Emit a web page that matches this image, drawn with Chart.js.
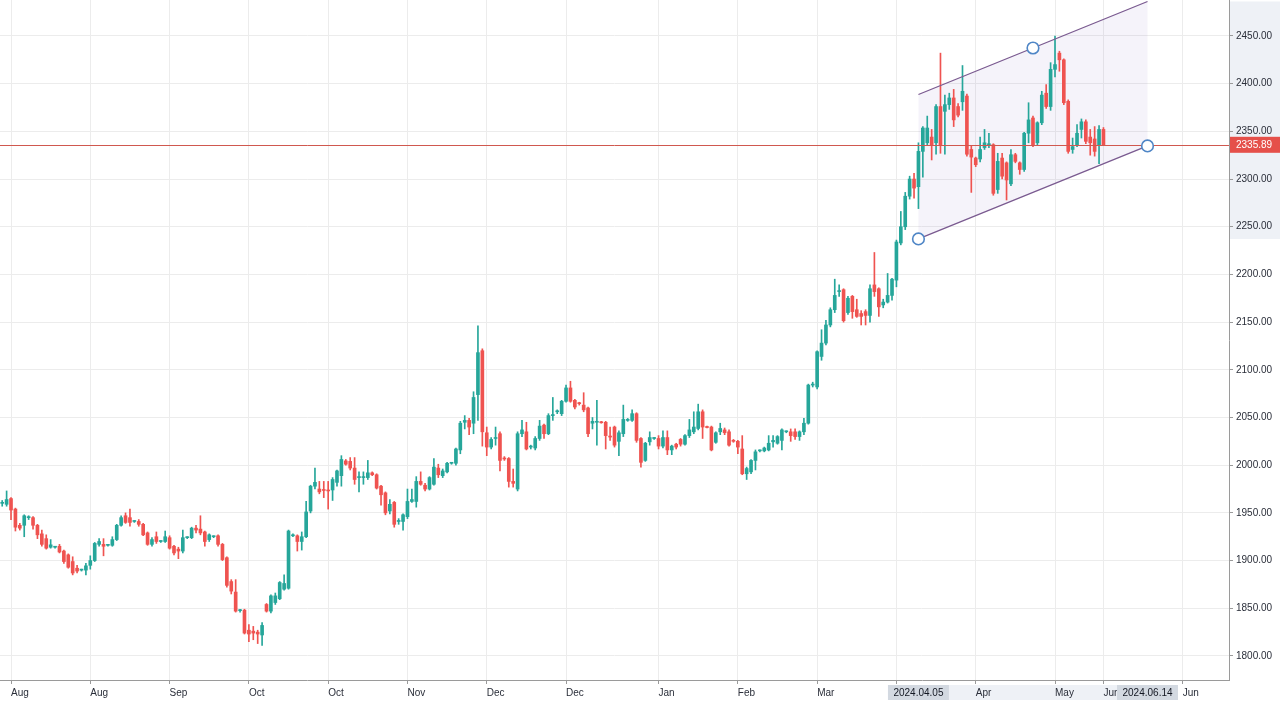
<!DOCTYPE html>
<html><head><meta charset="utf-8">
<script src="https://cdn.jsdelivr.net/npm/chart.js@4.4.1/dist/chart.umd.min.js"></script>
<style>html,body{margin:0;padding:0;background:#fff;overflow:hidden}#wrap{width:1280px;height:702px}</style>
</head><body><div id="wrap"><canvas id="c" width="1280" height="702"></canvas></div>
<script>
// ---- DATA ----
const opens = [1960,1959,1965,1954,1937,1937,1945,1945,1937,1928,
1923,1914,1914,1915,1910,1906,1899,1892,1890,1890,
1895,1900,1917,1917,1916,1916,1922,1937,1947,1945,
1941,1941,1938,1929,1917,1925,1920,1920,1924,1915,
1912,1910,1924,1924,1934,1933,1930,1922,1925,1926,
1917,1903,1878,1867,1847.5,1848,1827,1826,1825,1822,
1854,1847,1856,1860,1870,1871,1926,1926,1920,1925,
1952,1978,1975,1974,1974,1974,1982,1989,2004.5,2004,
1997,1987,1987,1987,1992,1990,1978,1971,1952,1961,
1941,1941,1946,1962,1962,1983,1979,1975,
1980,1997,1989,1993,2002,2002,2016,2045,2047,2044,2074,2120,
2034,2019,2028,2033,2007,2007,1983,1975,2033,2035,
2019,2018,2028,2042,2033,2052,2056,2054,2067,2081,
2068,2065,2063,2060,2044,2045,2045,2045,2030,2040,2025,
2033,2047,2047,2054,2028,2005,2024.5,2028,2028,
2020,2029,2016,2022,2027,2022,2031,2035,2038.5,2056,
2040,2040,2024,2035,2037,2035,2025.5,2025,2017,1991,
1993,2005,2015,2015,2016,2024.5,2023,2026,2035,2035,
2035,2030,2035,2044,2084,
2082,2114,2128,2147,2163,2182,2184,2160,2177,
2163,2159,2161,2157,2189,2185,2168,2171,2178,2194,
2233,2250,2282,2300,2292,2329,2338,2344,2338,2376,
2371,2378,2385,2376,2381,2387,2331,2322,2321,2333,
2336,2336,2289,2322,2317,2295,2325.5,2317,2310,2348,
2364,2338,2359,2390,2376,2415,2432,2425,2381.5,2331,
2336,2352,2360,2344,2342,2336,2352];
const highs = [1963,1973,1966,1955,1939,1948,1947,1946,1938,1932,
1927,1922,1915,1917,1911,1907,1904,1895,1891,1897,
1905,1919,1923,1923,1917,1925,1938,1947,1950,1954,
1942,1943,1939,1930,1924,1930,1921,1931,1926,1916,
1914,1932,1925,1935,1937,1947,1931,1928,1926,1927,
1918,1904,1880,1880,1849,1849,1833,1831,1827,1835,
1855,1864,1866,1878,1885,1932,1928,1927,1930,1962,
1979,1997,1983,1983,1983,1987,1995,2010,2006,2008,
2008,1993,1993,2005,1993,1991,1979,1972,1964,1962,
1944,1949,1975,1975,1988,1993,1981,1988,
2007,2001,1996,2003,2003,2018,2046,2052,2049,2077,2146,2122,
2040,2029,2040,2035,2009,2008,1996,2035,2047,2045,
2021,2030,2047,2043,2054,2071,2058,2068,2084,2088,
2069,2066,2076,2061,2050,2068,2046,2046,2040,2041,2036,
2063,2049,2058,2055,2029,2024,2035,2029,2031,
2036,2036,2021,2023,2028,2032,2048,2056,2064,2058,
2041,2041,2035,2044,2039,2037,2027,2026,2031,1998,
2006,2016,2016,2019,2031,2031,2031,2038,2036,2038,
2038,2036,2049,2085,2087,
2120,2142,2152,2165,2195,2189,2185,2177,2178,
2174,2162,2163,2189,2223,2186,2174,2201,2196,2236,
2266,2286,2303,2306,2338,2355,2366,2352,2378,2432,
2388,2390,2394,2379,2419,2389,2335,2323,2344,2352,
2348,2337,2327,2327,2318,2331,2327,2318,2349,2380,
2366,2360,2392,2399,2422,2450,2434,2426,2383,2343,
2357,2363,2362,2352,2355,2356,2354];
const lows = [1957,1957,1943,1931,1932,1925,1943,1933,1923,1915,
1912,1913,1913,1908,1897,1892,1885,1887,1889,1885,
1891,1899,1915,1905,1915,1915,1921,1936,1939,1936,
1940,1936,1926,1916,1915,1918,1919,1919,1912,1906,
1902,1908,1923,1923,1929,1927,1915,1920,1924,1915,
1900,1872,1865,1846,1846,1823,1815,1817,1813,1811,
1846,1845,1854,1859,1869,1870,1925,1910,1911,1924,
1950,1975,1970,1966,1954,1963,1978,1978,2000,1995,
1980,1972,1980,1985,1989,1975,1958,1948,1949,1935,
1938,1932,1944,1961,1956,1979,1973,1974,
1979,1987,1987,1992,2001,2000,2012,2038,2032,2033,2047,2020,
2010,2017,2021,1994,2005,1977,1977,1973,2030,2016,
2017,2016,2026,2028,2032,2047,2054,2052,2066,2066,
2059,2063,2056,2030,2038,2021,2044,2017,2026,2019,2010,
2030,2046,2046,2024,1998,2004,2021,2027,2017,
2018,2011,2011,2017,2020,2021,2029,2033,2037,2028,
2039,2015,2023,2032,2032,2020,2024,2012,1990,1985,
1991,1995,2014,2014,2015,2019,2022,2016,2034,2025,
2027,2026,2032,2043,2082,
2080,2110,2126,2145,2160,2177,2150,2158,2154,
2155,2147,2147,2150,2177,2156,2165,2170,2173,2187,
2231,2247,2279,2280,2269,2302,2336,2320,2326,2327,
2326,2373,2355,2365,2372,2324,2286,2313,2318,2331,
2333,2283,2285,2300,2278,2293,2317,2305,2308,2338,
2334,2336,2357,2374,2372,2407,2413,2378,2327,2327,
2334,2343,2337,2325,2324,2316,2335];
const closes = [1961,1964,1953,1935,1934,1947,1945.5,1937,1927,1917,
1913,1916.5,1914.5,1909,1899,1893,1887,1889,1890.5,1894.5,
1900,1918,1920,1915,1916.5,1922,1937,1945,1940,1940,
1941.5,1938,1927,1917,1922,1920,1920.5,1925,1913,1908,
1910,1924,1924.5,1934,1932,1929,1920,1927,1925.5,1917,
1901,1874,1868,1847,1848,1824,1823,1824,1823,1832,
1847,1863,1863,1877,1876,1931,1926.5,1920,1925,1951,
1978,1982,1972,1973.5,1973,1985,1994,2006,2001,1997,
1985,1987.5,1987,1992,1990,1976,1969,1950,1959,1938,
1941.5,1948,1962,1964,1983,1980,1975,1987,
1998,1990,1994,2002,2002.5,2017,2044,2047,2040,2071,2118,2035,
2019,2027,2028.5,2005,2006.5,1983,1981,2033,2037,2017,
2019.5,2028,2041,2033,2052,2052.5,2056.5,2067,2081,2067,
2061,2064.5,2058,2033,2046,2045.5,2044.5,2031,2029.5,2021,2034,
2048,2047.5,2054,2026,2003,2023,2029,2028.5,2020,
2029,2016,2020,2019,2022,2031,2037,2040,2056,2040,
2039.5,2016,2034,2038.5,2034,2021,2025,2019,1991,1996.5,
2005,2014,2015.5,2018,2023,2026,2030,2037,2035.5,2031,
2030,2035,2044,2084,2084.5,
2119,2128,2147,2163,2178,2182.5,2151.5,2175,2161,
2156,2156,2157,2185,2182,2166,2171,2178,2195,2234,
2250,2282,2300,2290.5,2329,2353.5,2353.5,2336,2376,2336,
2378,2385,2362,2367,2392,2326,2323,2315,2331,2338,
2336.5,2285,2318.5,2303,2299,2325.5,2318.5,2310,2348,2362,
2336,2359,2388,2376,2415,2420,2425,2380,2329,2334,
2348,2360,2339.5,2338,2329,2352,2336];

const slotCount = 279;                 // bar slots on the time axis (incl. future space)
const tickIdx  = [2,20,38,56,74,92,110,128,149,167,185,203,221,239,250,268];
const tickText = ['Aug','Aug','Sep','Oct','Oct','Nov','Dec','Dec','Jan','Feb','Mar','Apr','Apr','May','Jun','Jun'];
const yTicks = [1800,1850,1900,1950,2000,2050,2100,2150,2200,2250,2300,2350,2400,2450];
const yMin = 1774.8, yMax = 2487.7;
const lastPrice = 2335.89;
const channelIdx = [208, 260];           // anchor bars of the channel
const channelLower = [2237.2, 2334.7];   // lower line prices at anchors
const channelMidIdx = 234;
const channelMidUpper = 2437.4;          // upper line price at mid anchor
const dateBoxIdx = [208, 260];
const dateBoxText = ['2024.04.05', '2024.06.14'];

// ---- BUILD ----
const UP = '#26a69a', DOWN = '#ef5350';
const labels = Array.from({length: slotCount}, (_, i) => i);
const colors = opens.map((o, i) => closes[i] >= o ? UP : DOWN);
const bodies = opens.map((o, i) => [o, closes[i]]);
const wicks = lows.map((l, i) => [l, highs[i]]);
const tickMap = {};
tickIdx.forEach((t, k) => tickMap[t] = tickText[k]);
const FONT = {family: '"Liberation Sans", Arial, sans-serif', size: 10};
const TXT = '#2a2e39';
const GRID = '#ececec';

function lowerAt(idx) {
  return channelLower[0] + (channelLower[1] - channelLower[0]) * (idx - channelIdx[0]) / (channelIdx[1] - channelIdx[0]);
}
const upperOffset = channelMidUpper - lowerAt(channelMidIdx);

const overlay = {
  id: 'overlay',
  beforeDraw(chart) {
    const {ctx, chartArea: a, scales: {x, y}} = chart;
    ctx.save();
    ctx.fillStyle = '#eef1f6';
    const yt = y.getPixelForValue(channelLower[1] + upperOffset);
    const yb = y.getPixelForValue(channelLower[0]);
    ctx.fillRect(a.right + 1, Math.max(0, yt), chart.width - a.right, yb - Math.max(0, yt));
    const x0 = x.getPixelForValue(dateBoxIdx[0]), x1 = x.getPixelForValue(dateBoxIdx[1]);
    ctx.fillRect(x0, a.bottom + 5, x1 - x0, 15);
    ctx.restore();
  },
  beforeDatasetsDraw(chart) {
    const {ctx, scales: {x, y}} = chart;
    const xa = x.getPixelForValue(channelIdx[0]), xb = x.getPixelForValue(channelIdx[1]);
    ctx.save();
    ctx.fillStyle = 'rgba(110,80,190,0.07)';
    ctx.beginPath();
    ctx.moveTo(xa, y.getPixelForValue(channelLower[0]));
    ctx.lineTo(xb, y.getPixelForValue(channelLower[1]));
    ctx.lineTo(xb, y.getPixelForValue(channelLower[1] + upperOffset));
    ctx.lineTo(xa, y.getPixelForValue(channelLower[0] + upperOffset));
    ctx.closePath();
    ctx.fill();
    ctx.restore();
  },
  afterDatasetsDraw(chart) {
    const {ctx, chartArea: a, scales: {x, y}} = chart;
    ctx.save();
    const py = Math.round(y.getPixelForValue(lastPrice)) + 0.5;
    ctx.strokeStyle = '#d0584f';
    ctx.lineWidth = 1;
    ctx.beginPath(); ctx.moveTo(a.left, py); ctx.lineTo(a.right, py); ctx.stroke();
    const xa = x.getPixelForValue(channelIdx[0]), xb = x.getPixelForValue(channelIdx[1]);
    ctx.strokeStyle = '#7a5a90';
    ctx.lineWidth = 1.3;
    ctx.beginPath();
    ctx.moveTo(xa, y.getPixelForValue(channelLower[0]));
    ctx.lineTo(xb, y.getPixelForValue(channelLower[1]));
    ctx.moveTo(xa, y.getPixelForValue(channelLower[0] + upperOffset));
    ctx.lineTo(xb, y.getPixelForValue(channelLower[1] + upperOffset));
    ctx.stroke();
    const pts = [[channelIdx[0], channelLower[0]], [channelIdx[1], channelLower[1]], [channelMidIdx, channelMidUpper]];
    ctx.strokeStyle = '#4f86c6';
    ctx.fillStyle = '#ffffff';
    ctx.lineWidth = 1.6;
    pts.forEach(([i, p]) => {
      ctx.beginPath();
      ctx.arc(x.getPixelForValue(i), y.getPixelForValue(p), 5.8, 0, Math.PI * 2);
      ctx.fill(); ctx.stroke();
    });
    ctx.restore();
  },
  afterDraw(chart) {
    const {ctx, chartArea: a, scales: {x, y}} = chart;
    ctx.save();
    const py = y.getPixelForValue(lastPrice);
    ctx.fillStyle = '#e5504a';
    ctx.fillRect(a.right + 1, py - 8, chart.width - a.right, 16);
    ctx.fillStyle = '#ffffff';
    ctx.font = '10px "Liberation Sans", Arial, sans-serif';
    ctx.textBaseline = 'middle';
    ctx.textAlign = 'left';
    ctx.fillText(lastPrice.toFixed(2), a.right + 7, py + 0.5);
    dateBoxIdx.forEach((i, k) => {
      const cx = x.getPixelForValue(i);
      ctx.fillStyle = '#d3d9e1';
      ctx.fillRect(cx - 30.5, a.bottom + 5, 61, 15);
      ctx.fillStyle = '#131722';
      ctx.textAlign = 'center';
      ctx.fillText(dateBoxText[k], cx, a.bottom + 13);
    });
    ctx.restore();
  }
};

new Chart(document.getElementById('c'), {
  type: 'bar',
  data: {
    labels,
    datasets: [
      {data: wicks, backgroundColor: colors, barThickness: 1, grouped: false, order: 2},
      {data: bodies, backgroundColor: colors, barThickness: 3, grouped: false, minBarLength: 1, order: 1}
    ]
  },
  options: {
    responsive: false,
    animation: false,
    devicePixelRatio: 1,
    layout: {padding: 0},
    plugins: {legend: {display: false}, tooltip: {enabled: false}},
    scales: {
      x: {
        type: 'category',
        offset: true,
        grid: {offset: false, color: GRID, tickColor: '#9a9a9a', tickLength: 4},
        border: {color: '#9a9a9a'},
        ticks: {
          autoSkip: false, maxRotation: 0, minRotation: 0, align: 'start', padding: 3,
          font: FONT, color: TXT,
          callback: (v, i) => (tickMap[i] !== undefined ? tickMap[i] : null)
        },
        afterFit: s => { s.height = 22; s.paddingLeft = 0; s.paddingRight = 0; }
      },
      y: {
        position: 'right',
        min: yMin, max: yMax,
        afterBuildTicks: s => { s.ticks = yTicks.map(v => ({value: v})); },
        grid: {color: GRID, tickColor: '#9a9a9a', tickLength: 4},
        border: {color: '#9a9a9a'},
        ticks: {padding: 3, font: FONT, color: TXT, callback: v => Number(v).toFixed(2)},
        afterFit: s => { s.width = 51; s.paddingTop = 0; s.paddingBottom = 0; }
      }
    }
  },
  plugins: [overlay]
});
</script>
</body></html>
